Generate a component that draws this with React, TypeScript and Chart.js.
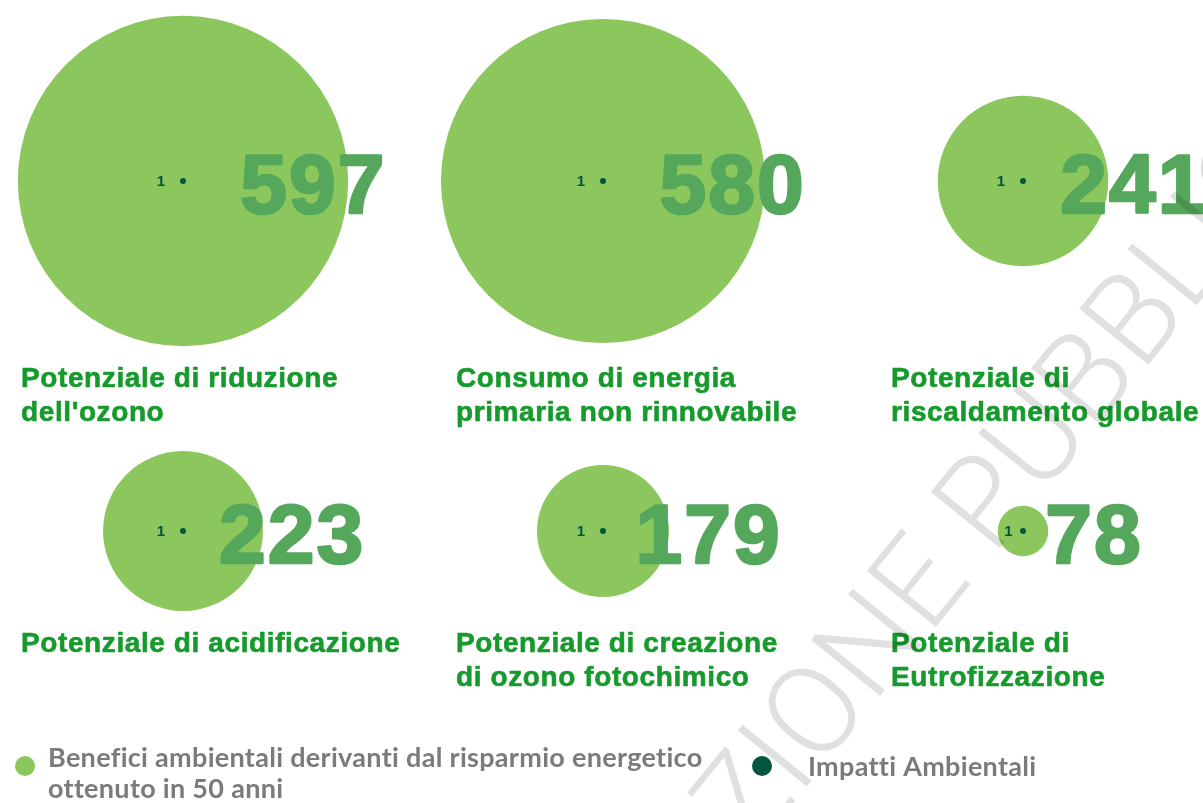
import React, { useEffect, useRef } from "react";
import { Chart, registerables } from "chart.js";

Chart.register(...registerables);

// ---------- data ----------
const categoryLabels: string[][] = [
  ["Potenziale di riduzione", "dell'ozono"],
  ["Consumo di energia", "primaria non rinnovabile"],
  ["Potenziale di", "riscaldamento globale"],
  ["Potenziale di acidificazione"],
  ["Potenziale di creazione", "di ozono fotochimico"],
  ["Potenziale di", "Eutrofizzazione"],
];
const beneficiValues = [597, 580, 241, 223, 179, 78];
const impattiValues = [1, 1, 1, 1, 1, 1];
const beneficiLegend = ["Benefici ambientali derivanti dal risparmio energetico", "ottenuto in 50 anni"];
const impattiLegend = ["Impatti Ambientali"];
const watermarkText = "ZIONE PUBBLIC";

// ---------- style ----------
const COLS = 3;
const W = 1203;
const H = 803;
const BUBBLE_GREEN = "#8bc75c";
const DARK_GREEN = "#03573f";
const NUMBER_GREEN = "#55a85b";
const LABEL_GREEN = "#169a2c";
const LEGEND_GREY = "#7b7b7b";
const FONT = '"Liberation Sans", Arial, sans-serif';

const bubbleRadius = (v: number) => 8.97 * Math.sqrt(v) - 54;
const colOf = (i: number) => i % COLS;
const rowOf = (i: number) => Math.floor(i / COLS);

const overlayPlugin = {
  id: "overlay",
  afterDatasetsDraw(chart: any) {
    const ctx: CanvasRenderingContext2D = chart.ctx;
    const meta = chart.getDatasetMeta(1);
    const rowMax: number[] = [];
    beneficiValues.forEach((v, i) => {
      const r = rowOf(i);
      rowMax[r] = Math.max(rowMax[r] || 0, bubbleRadius(v));
    });
    ctx.save();
    ctx.lineJoin = "round";
    meta.data.forEach((el: any, i: number) => {
      const { x, y } = el.getProps(["x", "y"], true);
      const r = bubbleRadius(beneficiValues[i]);
      const col = colOf(i);
      const row = rowOf(i);

      // big value
      ctx.font = `bold 84px ${FONT}`;
      (ctx as any).letterSpacing = "2px";
      ctx.fillStyle = NUMBER_GREEN;
      ctx.strokeStyle = NUMBER_GREEN;
      ctx.lineWidth = 2.6;
      ctx.textAlign = "left";
      ctx.textBaseline = "alphabetic";
      const nx = x + 0.25 * r + 16;
      ctx.fillText(String(beneficiValues[i]), nx, y + 32);
      ctx.strokeText(String(beneficiValues[i]), nx, y + 32);

      // impact value
      (ctx as any).letterSpacing = "0px";
      ctx.font = `bold 15px ${FONT}`;
      ctx.fillStyle = DARK_GREEN;
      ctx.textAlign = "right";
      const gap = Math.min(18, 0.25 * r + 4);
      ctx.fillText(String(impattiValues[i]), x - gap, y + 5);

      // category label
      ctx.font = `bold 28px ${FONT}`;
      (ctx as any).letterSpacing = "0.6px";
      ctx.fillStyle = LABEL_GREEN;
      ctx.strokeStyle = LABEL_GREEN;
      ctx.lineWidth = 0.6;
      ctx.textAlign = "left";
      const lx = x - 162 + 15 * col;
      const by = y + rowMax[row] + 41;
      categoryLabels[i].forEach((line, k) => {
        ctx.fillText(line, lx, by + k * 34);
        ctx.strokeText(line, lx, by + k * 34);
      });
    });
    (ctx as any).letterSpacing = "0px";

    // legend
    ctx.fillStyle = BUBBLE_GREEN;
    ctx.beginPath();
    ctx.arc(25, 766, 10, 0, Math.PI * 2);
    ctx.fill();
    ctx.fillStyle = DARK_GREEN;
    ctx.beginPath();
    ctx.arc(762, 766, 10, 0, Math.PI * 2);
    ctx.fill();
    ctx.font = `bold 27px Lato, "Open Sans", sans-serif`;
    (ctx as any).letterSpacing = "0.3px";
    ctx.fillStyle = LEGEND_GREY;
    ctx.textAlign = "left";
    ctx.fillText(beneficiLegend[0], 48, 767, 667);
    ctx.fillText(beneficiLegend[1], 48, 798);
    ctx.fillText(impattiLegend[0], 808, 776, 232);
    (ctx as any).letterSpacing = "0px";

    // watermark
    ctx.font = `300 125px Roboto, "Open Sans", sans-serif`;
    ctx.fillStyle = "rgba(0,0,0,0.12)";
    ctx.textBaseline = "middle";
    const wZI = ctx.measureText("ZI").width;
    const wO = ctx.measureText("O").width;
    ctx.translate(822, 718);
    ctx.rotate((-51 * Math.PI) / 180);
    ctx.fillText(watermarkText, -(wZI + wO / 2), 0);
    ctx.restore();
  },
};

export default function App() {
  const canvasRef = useRef<HTMLCanvasElement | null>(null);

  useEffect(() => {
    if (!canvasRef.current) return;
    const ppx = 420; // pixels per column unit
    const ppy = 350; // pixels per row unit
    const x0 = 183;
    const y0 = 181;
    const chart = new Chart(canvasRef.current, {
      type: "bubble",
      data: {
        datasets: [
          {
            label: impattiLegend[0],
            data: impattiValues.map((v, i) => ({ x: colOf(i), y: rowOf(i), r: 3 * v })),
            backgroundColor: DARK_GREEN,
            borderWidth: 0,
            clip: false as any,
            order: 0,
          },
          {
            label: beneficiLegend.join(" "),
            data: beneficiValues.map((v, i) => ({ x: colOf(i), y: rowOf(i), r: bubbleRadius(v) })),
            backgroundColor: BUBBLE_GREEN,
            borderWidth: 0,
            clip: false as any,
            order: 1,
          },
        ],
      },
      options: {
        responsive: false,
        animation: false,
        events: [],
        layout: { padding: 0, autoPadding: false },
        scales: {
          x: { type: "linear", display: false, min: -x0 / ppx, max: (W - x0) / ppx },
          y: { type: "linear", display: false, reverse: true, min: -y0 / ppy, max: (H - y0) / ppy },
        },
        plugins: {
          legend: { display: false },
          tooltip: { enabled: false },
          title: { display: false },
        },
      },
      plugins: [overlayPlugin],
    });
    return () => chart.destroy();
  }, []);

  return (
    <div style={{ position: "fixed", left: 0, top: 0, width: W, height: H, background: "#ffffff" }}>
      <canvas ref={canvasRef} width={W} height={H} style={{ display: "block" }} />
    </div>
  );
}
